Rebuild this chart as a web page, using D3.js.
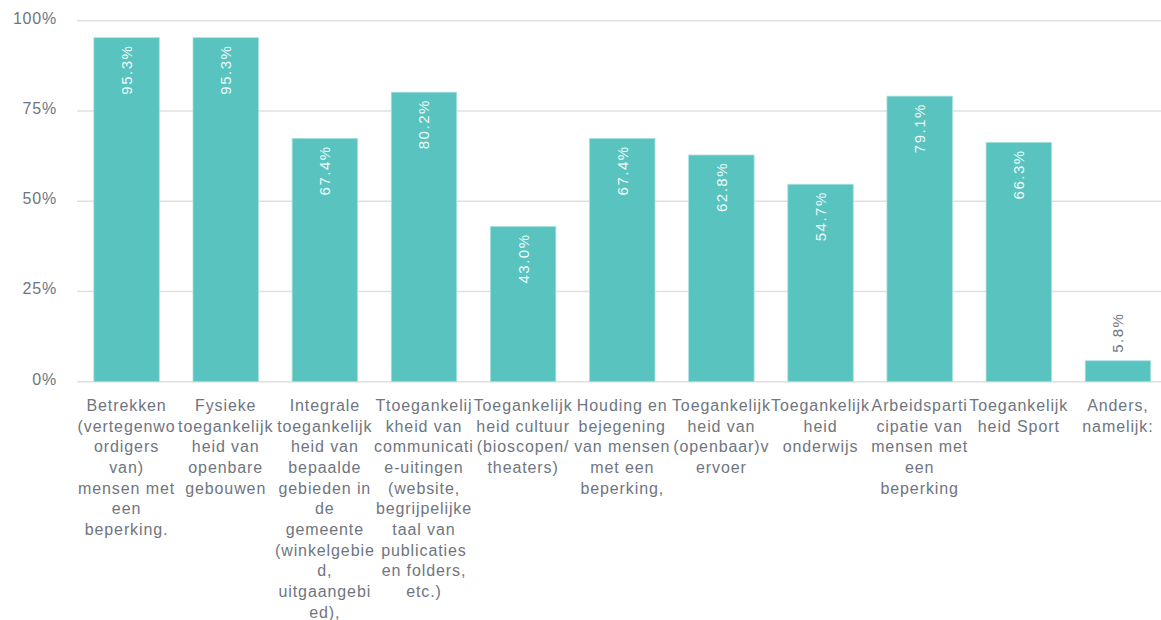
<!DOCTYPE html>
<html>
<head>
<meta charset="utf-8">
<script src="https://cdn.jsdelivr.net/npm/d3@7/dist/d3.min.js"></script>
<style>
  html, body { margin: 0; padding: 0; background: #ffffff; }
  svg { display: block; }
  text { font-family: "Liberation Sans", Arial, sans-serif; }
</style>
</head>
<body>
<svg id="chart" width="1161" height="620"></svg>
<script>
// ---- Data ----
const categories = [
  "Betrekken (vertegenwoordigers van) mensen met een beperking.",
  "Fysieke toegankelijkheid van openbare gebouwen",
  "Integrale toegankelijkheid van bepaalde gebieden in de gemeente (winkelgebied, uitgaangebied),",
  "Ttoegankelijkheid van communicatie-uitingen (website, begrijpelijke taal van publicaties en folders, etc.)",
  "Toegankelijkheid cultuur (bioscopen/theaters)",
  "Houding en bejegening van mensen met een beperking,",
  "Toegankelijkheid van (openbaar)vervoer",
  "Toegankelijkheid onderwijs",
  "Arbeidsparticipatie van mensen met een beperking",
  "Toegankelijkheid Sport",
  "Anders, namelijk:"
];
const categoryLines = [
  ["Betrekken", "(vertegenwo", "ordigers", "van)", "mensen met", "een", "beperking."],
  ["Fysieke", "toegankelijk", "heid van", "openbare", "gebouwen"],
  ["Integrale", "toegankelijk", "heid van", "bepaalde", "gebieden in", "de", "gemeente", "(winkelgebie", "d,", "uitgaangebi", "ed),"],
  ["Ttoegankelij", "kheid van", "communicati", "e-uitingen", "(website,", "begrijpelijke", "taal van", "publicaties", "en folders,", "etc.)"],
  ["Toegankelijk", "heid cultuur", "(bioscopen/", "theaters)"],
  ["Houding en", "bejegening", "van mensen", "met een", "beperking,"],
  ["Toegankelijk", "heid van", "(openbaar)v", "ervoer"],
  ["Toegankelijk", "heid", "onderwijs"],
  ["Arbeidsparti", "cipatie van", "mensen met", "een", "beperking"],
  ["Toegankelijk", "heid Sport"],
  ["Anders,", "namelijk:"]
];
const values = [95.3, 95.3, 67.4, 80.2, 43.0, 67.4, 62.8, 54.7, 79.1, 66.3, 5.8];
const yTicks = [0, 25, 50, 75, 100];
const yTickLabels = ["0%", "25%", "50%", "75%", "100%"];

// ---- Layout ----
const svg = d3.select("#chart");
const plotLeft = 77, plotRight = 1167.5, plotTop = 20.7, plotBottom = 381.7;

const x = d3.scaleBand()
  .domain(categories)
  .range([plotLeft, plotRight])
  .paddingInner(0.34)
  .paddingOuter(0.17);

const y = d3.scaleLinear().domain([0, 100]).range([plotBottom, plotTop]);

const textColor = "#6f7580";

// gridlines
svg.append("g")
  .selectAll("line")
  .data(yTicks)
  .join("line")
  .attr("x1", plotLeft)
  .attr("x2", 1161)
  .attr("y1", d => y(d))
  .attr("y2", d => y(d))
  .attr("stroke", "#e0e0e0")
  .attr("stroke-width", 1.6);

// y tick labels
svg.append("g")
  .selectAll("text")
  .data(yTicks)
  .join("text")
  .attr("x", 57)
  .attr("y", d => y(d) + 2.8)
  .attr("text-anchor", "end")
  .attr("font-size", 16)
  .attr("letter-spacing", "0.8px")
  .attr("fill", textColor)
  .text((d, i) => yTickLabels[i]);

// bars
const data = categories.map((c, i) => ({ c, v: values[i], lines: categoryLines[i] }));

svg.append("g")
  .selectAll("rect")
  .data(data)
  .join("rect")
  .attr("x", d => x(d.c))
  .attr("width", x.bandwidth())
  .attr("y", d => y(d.v))
  .attr("height", d => y(0) - y(d.v))
  .attr("fill", "#58c3bf")
  .attr("stroke", "#a8e0dd")
  .attr("stroke-width", 0.8);

// value labels
svg.append("g")
  .selectAll("text")
  .data(data)
  .join("text")
  .attr("transform", d => {
    const cx = x(d.c) + x.bandwidth() / 2;
    const inside = d.v > 15;
    const ty = inside ? y(d.v) + 7 : y(d.v) - 8;
    return `translate(${cx},${ty}) rotate(-90)`;
  })
  .attr("text-anchor", d => d.v > 15 ? "end" : "start")
  .attr("dominant-baseline", "central")
  .attr("font-size", 15)
  .attr("letter-spacing", "1.5px")
  .attr("fill", d => d.v > 15 ? "#eefaf9" : textColor)
  .text(d => d.v.toFixed(1) + "%");

// category labels
const labels = svg.append("g")
  .selectAll("text")
  .data(data)
  .join("text")
  .attr("x", d => x(d.c) + x.bandwidth() / 2)
  .attr("y", 411)
  .attr("text-anchor", "middle")
  .attr("font-size", 16)
  .attr("letter-spacing", "0.9px")
  .attr("fill", textColor);

labels.selectAll("tspan")
  .data(d => d.lines.map(l => ({ l, cx: x(d.c) + x.bandwidth() / 2 })))
  .join("tspan")
  .attr("x", d => d.cx)
  .attr("dy", (d, i) => i === 0 ? 0 : 20.67)
  .text(d => d.l);
</script>
</body>
</html>
